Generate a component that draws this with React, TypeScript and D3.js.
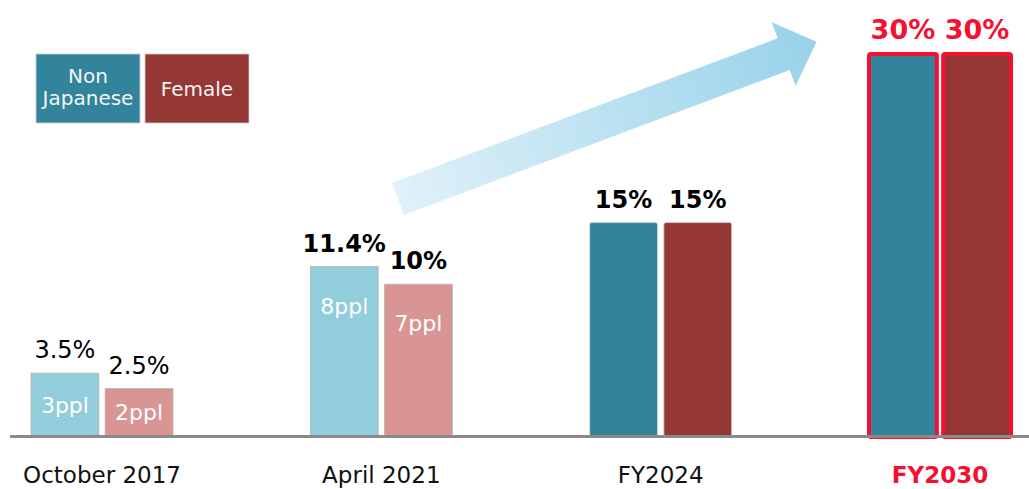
import { useEffect, useRef } from 'react';
import * as d3 from 'd3';

const periods = ['October 2017', 'April 2021', 'FY2024', 'FY2030'];
const series = ['Non Japanese', 'Female'];
const nonJapanesePct = [3.5, 11.4, 15, 30];
const femalePct = [2.5, 10, 15, 30];
const nonJapanesePpl = ['3ppl', '8ppl', '', ''];
const femalePpl = ['2ppl', '7ppl', '', ''];

const W = 1029;
const H = 489;
const FONT = '"DejaVu Sans", Verdana, sans-serif';

export default function App() {
  const svgRef = useRef<SVGSVGElement>(null);

  useEffect(() => {
    if (!svgRef.current) return;
    const svg = d3.select(svgRef.current);
    svg.selectAll('*').remove();

    const baseY = 436;
    const x = d3.scalePoint<string>().domain(periods).range([102, 940]);
    const xs = d3.scaleBand<string>().domain(series).range([-71, 71]).paddingInner(0.085);
    // the source picture is not drawn to a linear scale; a soft power curve fits it
    const y = d3.scalePow().exponent(0.84).domain([0, 30]).range([baseY, 54]);

    const lightColors = ['#92CDDC', '#D99594'];
    const darkColors = ['#31849B', '#953735'];
    const red = '#F5102F';

    // Growth arrow
    const defs = svg.append('defs');
    const grad = defs
      .append('linearGradient')
      .attr('id', 'arrowGrad')
      .attr('gradientUnits', 'userSpaceOnUse')
      .attr('x1', 0).attr('x2', 447).attr('y1', 0).attr('y2', 0);
    grad.append('stop').attr('offset', '0%').attr('stop-color', '#E0F1F9');
    grad.append('stop').attr('offset', '100%').attr('stop-color', '#98D2EA');

    const arrowPts: [number, number][] = [
      [0, -17], [412, -17], [412, -34], [447, 0], [412, 34], [412, 17], [0, 17],
    ];
    svg.append('g')
      .attr('transform', 'translate(398,199) rotate(-20.58)')
      .append('path')
      .attr('d', d3.line()(arrowPts) + 'Z')
      .attr('fill', 'url(#arrowGrad)');

    // Bars
    const rows = periods.map((p, i) => ({
      period: p,
      i,
      items: [
        { s: series[0], v: nonJapanesePct[i], ppl: nonJapanesePpl[i], k: 0 },
        { s: series[1], v: femalePct[i], ppl: femalePpl[i], k: 1 },
      ],
    }));

    function valueLabel(lx: number, ly: number, t: string, i: number) {
      svg.append('text')
        .attr('x', lx)
        .attr('y', ly)
        .attr('text-anchor', 'middle')
        .attr('fill', i === 3 ? red : '#000')
        .attr('font-weight', i === 0 ? 400 : 700)
        .attr('font-size', i === 3 ? '27px' : i === 0 ? '24px' : '24px')
        .attr('font-family', FONT)
        .text(t);
    }

    rows.forEach((row) => {
      const cx = x(row.period)!;
      const isTarget = row.i >= 2;
      const isFinal = row.i === 3;
      row.items.forEach((d) => {
        const bx = cx + xs(d.s)!;
        const top = y(d.v);
        const fill = isTarget ? darkColors[d.k] : lightColors[d.k];
        svg.append('rect')
          .attr('x', bx)
          .attr('y', top)
          .attr('width', xs.bandwidth())
          .attr('height', baseY - top + (isFinal ? 1 : 0))
          .attr('rx', isTarget ? 2 : 0)
          .attr('fill', fill)
          .attr('stroke', isFinal ? red : isTarget ? '#d8d8d8' : '#b4b4b4')
          .attr('stroke-width', isFinal ? 4 : 0.8);

        valueLabel(bx + xs.bandwidth() / 2, top - 15, `${d.v}%`, row.i);

        if (d.ppl) {
          const ly = Math.min(top + 47, (top + baseY) / 2 + 8);
          svg.append('text')
            .attr('x', bx + xs.bandwidth() / 2)
            .attr('y', ly)
            .attr('text-anchor', 'middle')
            .attr('fill', '#ffffff')
            .attr('font-size', '22px')
            .attr('font-family', FONT)
            .text(d.ppl);
        }
      });

      svg.append('text')
        .attr('x', cx)
        .attr('y', 483)
        .attr('text-anchor', 'middle')
        .attr('fill', isFinal ? red : '#111')
        .attr('font-weight', isFinal ? 700 : 400)
        .attr('font-size', '23px')
        .attr('font-family', FONT)
        .text(row.period);
    });

    // Baseline
    svg.append('line')
      .attr('x1', 10).attr('x2', W)
      .attr('y1', baseY + 0.5).attr('y2', baseY + 0.5)
      .attr('stroke', '#8a8a8a')
      .attr('stroke-width', 3);

    // Legend
    const legend = svg.append('g');
    legend.append('rect')
      .attr('x', 36).attr('y', 54).attr('width', 104).attr('height', 69)
      .attr('fill', darkColors[0]).attr('stroke', '#cfcfcf').attr('stroke-width', 0.8);
    legend.append('rect')
      .attr('x', 145).attr('y', 54).attr('width', 104).attr('height', 69)
      .attr('fill', darkColors[1]).attr('stroke', '#cfcfcf').attr('stroke-width', 0.8);
    [['Non', 83], ['Japanese', 105]].forEach(([t, ty]) => {
      legend.append('text')
        .attr('x', 88).attr('y', ty)
        .attr('text-anchor', 'middle')
        .attr('fill', '#f4f4f4')
        .attr('font-size', '20px')
        .attr('font-family', FONT)
        .text(t as string);
    });
    legend.append('text')
      .attr('x', 197).attr('y', 96)
      .attr('text-anchor', 'middle')
      .attr('fill', '#f4f4f4')
      .attr('font-size', '20px')
      .attr('font-family', FONT)
      .text(series[1]);
  }, []);

  return (
    <svg
      ref={svgRef}
      width={W}
      height={H}
      style={{ position: 'absolute', left: 0, top: 0, background: '#fff' }}
    />
  );
}
